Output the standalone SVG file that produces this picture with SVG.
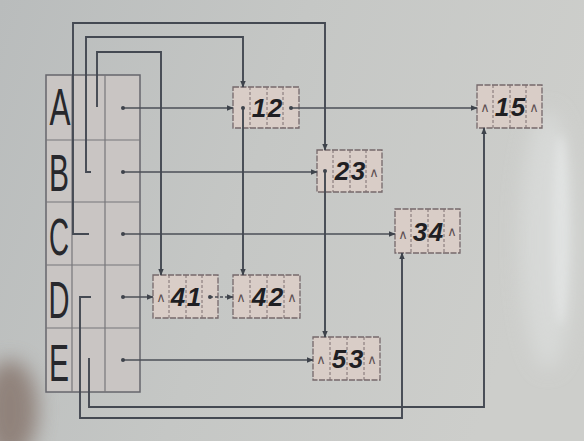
<svg xmlns="http://www.w3.org/2000/svg" width="584" height="441" viewBox="0 0 584 441">
<defs>
<linearGradient id="bg" x1="0" y1="0" x2="1" y2="0.25">
<stop offset="0" stop-color="#b9bcbc"/>
<stop offset="0.5" stop-color="#c5c7c5"/>
<stop offset="1" stop-color="#cdcecb"/>
</linearGradient>
<filter id="blur10" x="-50%" y="-50%" width="200%" height="200%"><feGaussianBlur stdDeviation="10"/></filter>
<filter id="blur5" x="-50%" y="-50%" width="200%" height="200%"><feGaussianBlur stdDeviation="5"/></filter>
<marker id="ah" viewBox="0 0 10 10" refX="9" refY="5" markerWidth="7" markerHeight="7" orient="auto" markerUnits="userSpaceOnUse">
<path d="M0,1 L10,5 L0,9 z" fill="#3e434b"/>
</marker>
<style>
.ln{fill:none;stroke:#444952;stroke-width:1.9}
.rw{fill:none;stroke:#4b4f57;stroke-width:1.5}
.dsh{stroke-dasharray:3 2}
.box{fill:#d9cdc7;stroke:#75686b;stroke-width:1.3;stroke-dasharray:6 1.5}
.cell{stroke:#7d6f71;stroke-width:1;stroke-dasharray:3 2}
.dig{font-family:"Liberation Sans",sans-serif;font-size:26px;font-weight:bold;font-style:italic;fill:#1f1f23;text-anchor:middle}
.nul{font-family:"DejaVu Sans",sans-serif;font-size:13px;fill:#5d5052;text-anchor:middle}
.let{font-family:"Liberation Sans",sans-serif;font-size:52px;fill:#27282c;text-anchor:middle}
.tb{fill:#c9c5c3;stroke:#66666c;stroke-width:1.5}
.tl{stroke:#77767a;stroke-width:1.2}
.dot{fill:#3e434b}
</style>
</defs>

<rect x="0" y="0" width="584" height="441" fill="url(#bg)"/>
<ellipse cx="560" cy="230" rx="8" ry="95" fill="#eef0f0" filter="url(#blur5)" opacity="0.9"/>
<ellipse cx="548" cy="240" rx="28" ry="130" fill="#dcdedd" filter="url(#blur10)" opacity="0.7"/>
<ellipse cx="10" cy="410" rx="28" ry="50" fill="#85736a" filter="url(#blur10)" opacity="0.8"/>

<g id="head-table">
<rect class="tb" x="46" y="75" width="94" height="317"/>
<line class="tl" x1="72" y1="75" x2="72" y2="392"/>
<line class="tl" x1="105" y1="75" x2="105" y2="392"/>
<line class="tl" x1="46" y1="140" x2="140" y2="140"/>
<line class="tl" x1="46" y1="202" x2="140" y2="202"/>
<line class="tl" x1="46" y1="265" x2="140" y2="265"/>
<line class="tl" x1="46" y1="328" x2="140" y2="328"/>
<text class="let" x="60" y="125" textLength="21" lengthAdjust="spacingAndGlyphs">A</text>
<text class="let" x="59" y="191" textLength="20" lengthAdjust="spacingAndGlyphs">B</text>
<text class="let" x="59" y="255" textLength="20" lengthAdjust="spacingAndGlyphs">C</text>
<text class="let" x="59" y="318" textLength="21" lengthAdjust="spacingAndGlyphs">D</text>
<text class="let" x="59" y="381" textLength="20" lengthAdjust="spacingAndGlyphs">E</text>
</g>

<g id="node-12">
<rect class="box" x="233" y="87" width="66" height="41"/>
<line class="cell" x1="250" y1="87" x2="250" y2="128"/>
<line class="cell" x1="267" y1="87" x2="267" y2="128"/>
<line class="cell" x1="283" y1="87" x2="283" y2="128"/>
<text class="dig" x="259" y="117">1</text>
<text class="dig" x="275" y="117">2</text>
</g>

<g id="node-15">
<rect class="box" x="477" y="85" width="65" height="43"/>
<line class="cell" x1="493" y1="85" x2="493" y2="128"/>
<line class="cell" x1="510" y1="85" x2="510" y2="128"/>
<line class="cell" x1="526" y1="85" x2="526" y2="128"/>
<text class="nul" x="485" y="112">∧</text>
<text class="dig" x="502" y="116">1</text>
<text class="dig" x="518" y="116">5</text>
<text class="nul" x="534" y="112">∧</text>
</g>

<g id="node-23">
<rect class="box" x="317" y="150" width="65" height="42"/>
<line class="cell" x1="333" y1="150" x2="333" y2="192"/>
<line class="cell" x1="350" y1="150" x2="350" y2="192"/>
<line class="cell" x1="366" y1="150" x2="366" y2="192"/>
<text class="dig" x="342" y="180">2</text>
<text class="dig" x="358" y="180">3</text>
<text class="nul" x="374" y="177">∧</text>
</g>

<g id="node-34">
<rect class="box" x="395" y="209" width="65" height="44"/>
<line class="cell" x1="411" y1="209" x2="411" y2="253"/>
<line class="cell" x1="428" y1="209" x2="428" y2="253"/>
<line class="cell" x1="444" y1="209" x2="444" y2="253"/>
<text class="nul" x="403" y="239">∧</text>
<text class="dig" x="420" y="241">3</text>
<text class="dig" x="436" y="241">4</text>
<text class="nul" x="452" y="236">∧</text>
</g>

<g id="node-41">
<rect class="box" x="153" y="275" width="65" height="43"/>
<line class="cell" x1="169" y1="275" x2="169" y2="318"/>
<line class="cell" x1="186" y1="275" x2="186" y2="318"/>
<line class="cell" x1="202" y1="275" x2="202" y2="318"/>
<text class="nul" x="161" y="302">∧</text>
<text class="dig" x="178" y="306">4</text>
<text class="dig" x="194" y="306">1</text>
</g>

<g id="node-42">
<rect class="box" x="233" y="275" width="67" height="43"/>
<line class="cell" x1="250" y1="275" x2="250" y2="318"/>
<line class="cell" x1="267" y1="275" x2="267" y2="318"/>
<line class="cell" x1="284" y1="275" x2="284" y2="318"/>
<text class="nul" x="241" y="302">∧</text>
<text class="dig" x="259" y="306">4</text>
<text class="dig" x="276" y="306">2</text>
<text class="nul" x="292" y="302">∧</text>
</g>

<g id="node-53">
<rect class="box" x="313" y="337" width="67" height="43"/>
<line class="cell" x1="330" y1="337" x2="330" y2="380"/>
<line class="cell" x1="347" y1="337" x2="347" y2="380"/>
<line class="cell" x1="364" y1="337" x2="364" y2="380"/>
<text class="nul" x="321" y="364">∧</text>
<text class="dig" x="339" y="368">5</text>
<text class="dig" x="356" y="368">3</text>
<text class="nul" x="372" y="364">∧</text>
</g>

<g id="connectors">
<path class="rw" d="M123,108 H233" marker-end="url(#ah)"/>
<path class="rw" d="M291,108 H477" marker-end="url(#ah)"/>
<path class="rw" d="M123,172 H317" marker-end="url(#ah)"/>
<path class="rw" d="M123,234 H395" marker-end="url(#ah)"/>
<path class="rw" d="M123,297 H153" marker-end="url(#ah)"/>
<path class="rw dsh" d="M210,297 H233" marker-end="url(#ah)"/>
<path class="rw" d="M123,360 H313" marker-end="url(#ah)"/>
<path class="ln" d="M97,107 V52 H161 V275" marker-end="url(#ah)"/>
<path class="ln" d="M91,172 H86 V37 H243 V87" marker-end="url(#ah)"/>
<path class="ln" d="M243,108 V275" marker-end="url(#ah)"/>
<path class="ln" d="M89,234 H73 V23 H325 V150" marker-end="url(#ah)"/>
<path class="ln" d="M325,171 V337" marker-end="url(#ah)"/>
<path class="ln" d="M91,297 H80 V418 H402 V253" marker-end="url(#ah)"/>
<path class="ln" d="M89,358 V407 H484 V128" marker-end="url(#ah)"/>
<circle class="dot" cx="123" cy="108" r="2"/>
<circle class="dot" cx="123" cy="172" r="2"/>
<circle class="dot" cx="123" cy="234" r="2"/>
<circle class="dot" cx="123" cy="297" r="2"/>
<circle class="dot" cx="123" cy="360" r="2"/>
<circle class="dot" cx="243" cy="108" r="2"/>
<circle class="dot" cx="291" cy="108" r="2"/>
<circle class="dot" cx="325" cy="171" r="2"/>
<circle class="dot" cx="210" cy="297" r="2"/>
</g>
</svg>
